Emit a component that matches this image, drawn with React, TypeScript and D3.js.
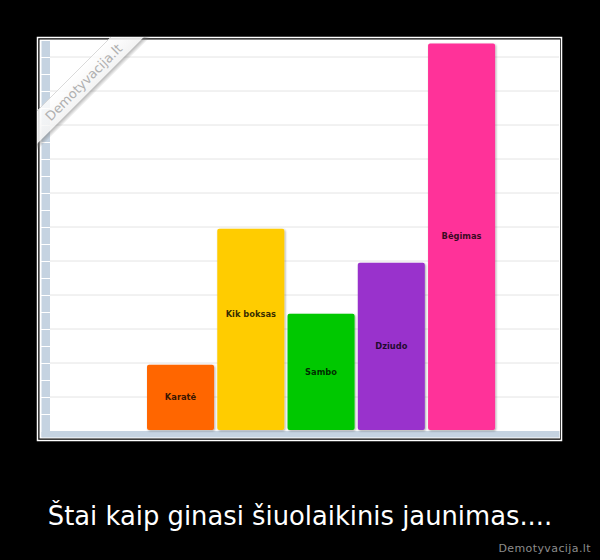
import React from "react";
import * as d3 from "d3";

const categories = ["Karatė", "Kik boksas", "Sambo", "Dziudo", "Bėgimas"];
const values = [1.95, 5.95, 3.45, 4.95, 11.4];
const labelLevels = [0.98, 3.44, 1.73, 2.48, 5.72];
const barColors = ["#ff6600", "#ffcc00", "#00c800", "#9933cc", "#ff3399"];
const gridTicks = [1, 2, 3, 4, 5, 6, 7, 8, 9, 10, 11];
const caption = "Štai kaip ginasi šiuolaikinis jaunimas....";
const siteName = "Demotyvacija.lt";

const W = 600;
const H = 560;

export default function App() {
  const x = d3
    .scaleBand<string>()
    .domain(categories)
    .range([145.4, 496.7])
    .paddingInner(0.046)
    .paddingOuter(0.023);
  const y = d3.scaleLinear().domain([0, 11.5]).range([431, 40]);
  const minorTicks = d3.range(0, 11.51, 0.5);

  return (
    <div style={{ position: "absolute", left: 0, top: 0 }}>
      <svg width={W} height={H} style={{ display: "block" }}>
        <defs>
          <filter id="barShadow" x="-10%" y="-10%" width="130%" height="130%">
            <feDropShadow dx="1" dy="1" stdDeviation="0.8" floodColor="#000" floodOpacity="0.35" />
          </filter>
          <linearGradient id="wmShadow" gradientUnits="userSpaceOnUse" x1="90.5" y1="90.5" x2="94" y2="94">
            <stop offset="0" stopColor="#777" stopOpacity="0.55" />
            <stop offset="1" stopColor="#777" stopOpacity="0" />
          </linearGradient>
          <linearGradient id="wmBand" gradientUnits="userSpaceOnUse" x1="74" y1="74" x2="90.5" y2="90.5">
            <stop offset="0" stopColor="#ffffff" stopOpacity="0.8" />
            <stop offset="1" stopColor="#f2f2f2" stopOpacity="0.92" />
          </linearGradient>
        </defs>
        <rect x={0} y={0} width={W} height={H} fill="#000" />
        {/* outer frame */}
        <rect x={37.5} y={37.5} width={524} height={403} fill="none" stroke="#fff" strokeWidth={1.5} />
        {/* chart image */}
        <rect x={39.5} y={39.5} width={520.5} height={399} fill="#fff" />
        {/* gridlines */}
        {gridTicks.map((t) => (
          <line key={t} x1={50} x2={559} y1={y(t)} y2={y(t)} stroke="#e4e4e4" strokeWidth={1} />
        ))}
        {/* left axis strip */}
        <rect x={41.5} y={40} width={8.5} height={397} fill="#c5d3e1" />
        {minorTicks.map((t) => (
          <line key={t} x1={41} x2={50} y1={Math.round(y(t)) + 0.5} y2={Math.round(y(t)) + 0.5} stroke="#fff" strokeWidth={1} />
        ))}
        {/* bottom band */}
        <rect x={41.5} y={431} width={518} height={6.5} fill="#c5d3e1" />
        {/* bars */}
        {categories.map((c, i) => (
          <rect
            key={c}
            x={x(c)}
            y={y(values[i])}
            width={x.bandwidth()}
            height={y(0) - 1 - y(values[i])}
            rx={2}
            fill={barColors[i]}
            filter="url(#barShadow)"
          />
        ))}
        {categories.map((c, i) => (
          <text
            key={c}
            x={(x(c) as number) + x.bandwidth() / 2}
            y={y(labelLevels[i])}
            textAnchor="middle"
            dominantBaseline="middle"
            fontFamily="'DejaVu Sans', Verdana, sans-serif"
            fontWeight="bold"
            fontSize={8.3}
            fill="#000"
            fillOpacity={0.8}
          >
            {c}
          </text>
        ))}
        {/* watermark ribbon */}
        <polygon points="37,111 111,37 144,37 37,144" fill="url(#wmBand)" />
        <polygon points="37,144 144,37 151,37 37,151" fill="url(#wmShadow)" />
        <line x1={37} y1={111} x2={111} y2={37} stroke="#d0d0d0" strokeWidth={0.8} />
        <text
          transform="translate(84.5,83) rotate(-45)"
          textAnchor="middle"
          dominantBaseline="middle"
          fontFamily="'DejaVu Sans', Verdana, sans-serif"
          fontSize={13}
          fill="#b0b0b0"
        >
          {siteName}
        </text>
        {/* caption */}
        <text
          x={300}
          y={525}
          textAnchor="middle"
          fontFamily="'DejaVu Sans', Verdana, sans-serif"
          fontSize={25.8}
          fill="#fff"
        >
          {caption}
        </text>
        <text
          x={591}
          y={552}
          textAnchor="end"
          fontFamily="'DejaVu Sans', Verdana, sans-serif"
          fontSize={11}
          letterSpacing={0.4}
          fill="#8c8c8c"
        >
          {siteName}
        </text>
      </svg>
    </div>
  );
}
